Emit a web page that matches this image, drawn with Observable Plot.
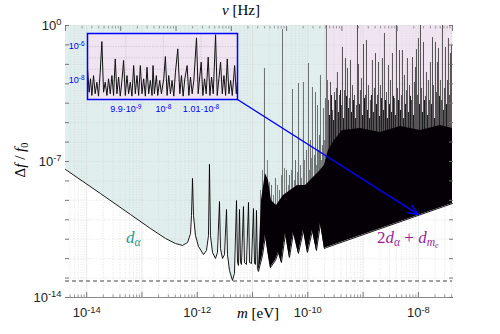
<!DOCTYPE html>
<html><head><meta charset="utf-8">
<script src="https://cdn.jsdelivr.net/npm/d3@7"></script>
<script src="https://cdn.jsdelivr.net/npm/@observablehq/plot@0.6"></script>
<style>
html,body{margin:0;padding:0;background:#fff;}
#wrap{position:relative;width:500px;height:334px;overflow:hidden;}
#wrap svg{display:block;}
.tex{position:absolute;font-family:"Liberation Serif","DejaVu Serif",serif;white-space:nowrap;line-height:1;}
.tex sub{font-size:68%;vertical-align:-0.3em;line-height:0;}
#inset{position:absolute;left:57px;top:31px;}
</style></head><body>
<div id="wrap">
  <div id="chart"></div>
  <div id="inset"></div>
  <div class="tex" style="left:222px;top:3px;font-size:15px;"><i>ν</i> [Hz]</div>
  <div class="tex" style="left:237px;top:306px;font-size:15px;"><i>m</i> [eV]</div>
  <div class="tex" style="left:20px;top:160px;font-size:15px;transform:translate(-50%,-50%) rotate(-90deg);">Δ<i>f</i> / <i>f</i><sub>0</sub></div>
  <div class="tex" style="left:126px;top:229px;font-size:17px;color:#2a9a8e;"><i>d</i><sub><i>α</i></sub></div>
  <div class="tex" style="left:377px;top:229px;font-size:17px;color:#9a1f9a;">2<i>d</i><sub><i>α</i></sub> + <i>d</i><sub><i>m<sub>e</sub></i></sub></div>
</div>
<script>
// ---------- data (exponents of 10) ----------
const xDomainExp = [-14.383, -7.383];     // m [eV]
const yDomainExp = [-14, 0];              // Δf/f0
const hEV = 4.135667e-15;                 // eV per Hz (ν = m / h)
const xLabelExp = [-14, -12, -10, -8];
const yLabelExp = [0, -7, -14];
const nuLabelExp = [0, 2, 4, 6];
const floorExp = -13.15;
const regionSplitExp = -9.663;

// lower curve [log10 m, log10 Δf/f0]
const curveLow = [
 [-14.383,-7.41],[-13.750,-8.65],[-13.207,-9.73],[-12.846,-10.45],[-12.574,-10.96],[-12.394,-11.22],[-12.267,-11.32],[-12.176,-11.17],[-12.122,-10.71],[-12.104,-9.78],[-12.086,-7.87],[-12.068,-9.78],[-12.032,-10.81],[-11.978,-11.37],[-11.887,-11.79],[-11.833,-11.58],[-11.797,-10.81],[-11.779,-7.15],[-11.761,-10.81],[-11.724,-11.68],[-11.670,-11.99],[-11.634,-11.68],[-11.598,-9.06],[-11.580,-11.48],[-11.543,-11.99],[-11.507,-11.79],[-11.471,-9.47],[-11.453,-11.79],[-11.417,-12.61],[-11.363,-13.12],[-11.327,-12.76],[-11.290,-9.01],[-11.272,-12.20],[-11.254,-12.35],[-11.236,-9.47],[-11.218,-12.20],[-11.200,-12.30],[-11.164,-9.32],[-11.146,-12.20],[-11.110,-12.30],[-11.073,-9.11],[-11.055,-12.20],[-11.019,-12.25],[-10.983,-9.42],[-10.965,-12.25],[-10.947,-12.30],[-10.929,-9.52],[-10.911,-12.51],[-10.893,-12.66],
 [-10.820,-11.84],[-10.766,-10.81],[-10.712,-11.84],[-10.676,-12.46],[-10.585,-12.09],[-10.531,-11.68],[-10.477,-12.20],[-10.404,-10.71],[-10.332,-11.94],[-10.259,-10.65],[-10.169,-11.73],[-10.078,-10.55],[-10.006,-11.68],[-9.916,-10.55],[-9.843,-11.58],[-9.771,-10.19],[-9.699,-11.48],[-9.663,-11.43],[-7.383,-9.16]
];
// top of the densely oscillating (solid black) band
const denseTop = [
 [-10.893,-12.66],[-10.838,-9.01],[-10.766,-7.62],[-10.712,-7.98],[-10.658,-9.01],[-10.567,-9.26],[-10.441,-8.75],[-10.314,-8.49],[-10.187,-8.23],[-10.042,-8.23],[-9.916,-7.87],[-9.807,-7.57],[-9.699,-7.21],[-9.627,-6.43],[-9.518,-5.92],[-9.373,-5.40],[-9.048,-5.30],[-8.686,-5.51],[-8.324,-5.20],[-7.963,-5.40],[-7.601,-5.15],[-7.383,-5.30]
];
// resonance spikes [log10 m, log10 peak]: tall ones left of the split
const spikesA = [
 [-10.784,-2.21],[-10.657,-8.23],[-10.585,-7.87],[-10.513,-8.49],[-10.458,-0.21],[-10.386,-7.46],[-10.332,-7.72],[-10.277,-3.29],[-10.223,-6.95],[-10.169,-2.99],[-10.133,-7.21],[-10.079,-2.93],[-10.024,-6.43],[-9.988,-1.96],[-9.952,-5.92],[-9.916,-3.19],[-9.880,-6.69],[-9.861,-3.45],[-9.825,-4.12],[-9.789,-5.66],[-9.771,-2.57],[-9.735,-6.18],[-9.717,-4.27],[-9.681,-3.76],[-9.663,0],[-9.644,-2.83]
];
// shorter spikes rising out of the dark band left of the split
const spikesD = [
 [-10.856,-8.49],[-10.820,-7.46],[-10.730,-6.95],[-10.693,-8.08],[-10.621,-8.75],[-10.549,-8.23],[-10.476,-7.72],[-10.422,-7.36],[-10.350,-8.23],[-10.296,-7.46],[-10.241,-7.98],[-10.187,-7.57],[-10.115,-7.87],[-10.060,-6.95],[-9.970,-7.46],[-9.934,-6.85],[-9.843,-7.21],[-9.807,-6.43],[-9.753,-6.95],[-9.699,-5.92]
];
// spikes right of the split
const spikesB = [
 [-9.626,-3.86],[-9.590,-2.93],[-9.554,-4.37],[-9.518,-3.45],[-9.482,-3.24],[-9.464,-2.42],[-9.427,-3.60],[-9.391,-4.12],[-9.373,-1.13],[-9.337,-3.35],[-9.319,-1.70],[-9.283,-2.21],[-9.247,-3.76],[-9.228,-1.80],[-9.192,-3.09],[-9.156,-3.60],[-9.120,-4.12],[-9.102,0],[-9.084,-2.01],[-9.048,-3.35],[-9.030,-2.73],[-8.993,-0.98],[-8.957,-3.60],[-8.939,-0.77],[-8.903,-3.09],[-8.867,-3.86],[-8.831,-1.80],[-8.794,-3.24],[-8.776,-1.44],[-8.740,-3.60],[-8.722,-1.90],[-8.686,-3.09],[-8.650,-1.70],[-8.614,-0.41],[-8.577,-3.45],[-8.541,-2.06],[-8.505,-2.83],[-8.469,-1.44],[-8.433,-3.76],[-8.397,0],[-8.378,-3.24],[-8.342,-1.29],[-8.306,-3.60],[-8.288,-1.29],[-8.252,-2.57],[-8.216,-3.35],[-8.198,-1.70],[-8.161,-3.09],[-8.125,-3.86],[-8.107,-1.65],[-8.071,-2.93],[-8.053,-2.16],[-8.035,-1.24],[-8.017,-3.60],[-7.999,-0.67],[-7.962,0],[-7.944,-3.24],[-7.908,-0.87],[-7.872,-3.65],[-7.854,-2.42],[-7.818,-2.83],[-7.800,-3.86],[-7.782,-1.90],[-7.745,-0.62],[-7.727,-3.09],[-7.691,-0.87],[-7.673,-3.45],[-7.655,-1.90],[-7.637,-1.18],[-7.601,-2.83],[-7.583,-3.86],[-7.565,0],[-7.528,-3.24],[-7.510,-1.13],[-7.474,-2.83],[-7.456,-0.67],[-7.438,-3.60],[-7.420,-1.44],[-7.402,-1.03]
];
const spikesC = [
 [-9.608,-4.63],[-9.572,-3.60],[-9.536,-4.89],[-9.500,-3.86],[-9.446,-4.48],[-9.409,-3.35],[-9.355,-4.79],[-9.301,-3.65],[-9.265,-4.27],[-9.210,-4.48],[-9.174,-3.86],[-9.138,-4.79],[-9.066,-4.07],[-9.011,-4.63],[-8.975,-3.76],[-8.921,-4.37],[-8.885,-4.79],[-8.849,-3.60],[-8.813,-4.48],[-8.758,-4.07],[-8.704,-4.68],[-8.668,-3.76],[-8.632,-4.37],[-8.595,-3.86],[-8.559,-4.79],[-8.523,-4.07],[-8.487,-4.48],[-8.451,-3.65],[-8.415,-4.63],[-8.360,-3.86],[-8.324,-4.37],[-8.270,-4.79],[-8.234,-4.07],[-8.180,-4.48],[-8.143,-3.65],[-8.089,-4.63],[-7.981,-4.07],[-7.926,-4.48],[-7.890,-3.86],[-7.836,-4.63],[-7.764,-4.07],[-7.709,-4.79],[-7.619,-3.65],[-7.547,-4.37],[-7.492,-4.07]
];
// arrow from inset corner to m = 1e-8
const arrowFrom = [-11.272, -3.81];
const arrowTo = [-8.0, -9.73];

// inset: [m in units of 1e-8 eV, log10 Δf/f0]
const insetXDomain = [0.97982, 1.01970];
const insetYDomainExp = [-9.118, -5.235];
const insetXTicks = [0.99, 1.0, 1.01];
const insetXLabels = ["9.9·10⁻⁹", "10⁻⁸", "1.01·10⁻⁸"];
const insetYLabelExp = [-6, -8];
const insetYGridExp = [-6, -6.667, -7.333, -8];
const insetCurve = [
 [0.97982,-7.31],[0.98026,-8.69],[0.98062,-7.90],[0.98098,-8.88],[0.98142,-7.71],[0.98186,-8.78],[0.98231,-8.10],[0.98275,-8.92],[0.98320,-7.51],[0.98364,-5.71],[0.98409,-8.69],[0.98453,-8.10],[0.98498,-8.88],[0.98542,-7.90],[0.98587,-8.78],[0.98631,-7.71],[0.98675,-8.88],[0.98720,-6.73],[0.98764,-8.78],[0.98809,-7.80],[0.98853,-8.92],[0.98898,-8.00],[0.98942,-6.82],[0.98987,-8.88],[0.99031,-7.71],[0.99075,-8.78],[0.99120,-8.10],[0.99164,-8.92],[0.99209,-7.12],[0.99253,-8.78],[0.99298,-7.71],[0.99342,-8.88],[0.99387,-7.12],[0.99431,-8.78],[0.99475,-7.90],[0.99520,-8.92],[0.99564,-7.22],[0.99609,-8.78],[0.99653,-8.00],[0.99698,-8.88],[0.99724,-7.12],[0.99760,-8.78],[0.99813,-7.71],[0.99849,-8.88],[0.99902,-8.00],[0.99947,-8.78],[1.00009,-7.90],[1.00053,-6.59],[1.00098,-8.88],[1.00142,-7.71],[1.00187,-8.78],[1.00231,-8.00],[1.00276,-8.92],[1.00320,-7.51],[1.00382,-6.14],[1.00436,-8.78],[1.00480,-7.71],[1.00525,-8.92],[1.00569,-7.90],[1.00631,-7.12],[1.00676,-8.88],[1.00720,-7.80],[1.00765,-8.78],[1.00809,-8.00],[1.00880,-5.49],[1.00925,-8.78],[1.00969,-7.71],[1.01005,-6.92],[1.01049,-8.88],[1.01094,-7.90],[1.01138,-8.78],[1.01191,-6.63],[1.01236,-8.88],[1.01280,-7.80],[1.01325,-8.78],[1.01387,-5.31],[1.01431,-8.88],[1.01476,-7.90],[1.01520,-6.92],[1.01565,-8.78],[1.01609,-7.71],[1.01654,-8.88],[1.01698,-6.73],[1.01742,-8.78],[1.01787,-8.00],[1.01831,-8.88],[1.01894,-7.12],[1.01938,-8.78],[1.01965,-8.10]
];

// ---------- helpers ----------
const P = e => Math.pow(10, e);
const SUP = {"0":"⁰","1":"¹","2":"²","3":"³","4":"⁴","5":"⁵","6":"⁶","7":"⁷","8":"⁸","9":"⁹","-":"⁻"};
const UNSUP = Object.fromEntries(Object.entries(SUP).map(([k, v]) => [v, k]));
const pow10 = e => "10" + String(e).split("").map(c => SUP[c]).join("");
const decades = d3.range(Math.floor(xDomainExp[0]), Math.ceil(xDomainExp[1]) + 1);
const xMajor = decades.map(P).filter(v => v >= P(xDomainExp[0]) && v <= P(xDomainExp[1]));
const xMinor = decades.flatMap(k => d3.range(2, 10).map(j => j * P(k))).filter(v => v >= P(xDomainExp[0]) && v <= P(xDomainExp[1]));
const yDec = d3.range(yDomainExp[0], yDomainExp[1] + 1).map(P);
const nuDec = d3.range(0, 8);
const nuMajor = nuDec.map(k => P(k) * hEV).filter(v => v <= P(xDomainExp[1]) * 1.0001);
const nuMinor = nuDec.flatMap(k => d3.range(2, 10).map(j => j * P(k) * hEV)).filter(v => v <= P(xDomainExp[1]));

const teal = "#e0efee", pink = "#efe4f0";
const tealPts = curveLow.filter(d => d[0] <= regionSplitExp + 1e-9);
const pinkPts = curveLow.filter(d => d[0] >= regionSplitExp - 1e-9);
const yBottom = () => P(yDomainExp[0]), yTop = () => P(yDomainExp[1]);

// second copy uses slightly different stroke codes so it can be found and clipped
function gridMarks(c1, c2) {
  return [
    Plot.ruleX(xMinor, {stroke: c1, strokeWidth: 0.6, strokeDasharray: "1,1.6"}),
    Plot.ruleX(xMajor, {stroke: c2, strokeWidth: 0.6}),
    Plot.ruleY(yDec, {stroke: c1, strokeWidth: 0.6, strokeDasharray: "1,1.6"})
  ];
}
const spikeOpts = (stroke, w) => ({x: d => P(d[0]), y1: yBottom, y2: d => P(d[1]), stroke, strokeWidth: w});

const chart = Plot.plot({
  width: 500, height: 334,
  marginLeft: 65, marginRight: 48, marginTop: 25, marginBottom: 37,
  x: {type: "log", domain: xDomainExp.map(P)},
  y: {type: "log", domain: yDomainExp.map(P)},
  style: {fontFamily: "'Liberation Sans', Arial, sans-serif", fontSize: "13px", background: "transparent", color: "#222", overflow: "visible"},
  marks: [
    Plot.areaY(tealPts, {x: d => P(d[0]), y1: d => P(d[1]), y2: yTop, fill: teal}),
    Plot.areaY(pinkPts, {x: d => P(d[0]), y1: d => P(d[1]), y2: yTop, fill: pink}),
    ...gridMarks("#d0d0d0", "#d8d8d8"),
    Plot.ruleX(spikesA, spikeOpts("#2a2a2a", 0.65)),
    Plot.ruleX(spikesD, spikeOpts("#3a3a3a", 0.6)),
    Plot.ruleX(spikesC, spikeOpts("#000", 0.9)),
    Plot.ruleX(spikesB, spikeOpts("#111", 0.7)),
    Plot.areaY(denseTop, {x: d => P(d[0]), y1: yBottom, y2: d => P(d[1]), fill: "#050005"}),
    Plot.areaY(curveLow, {x: d => P(d[0]), y1: yBottom, y2: d => P(d[1]), fill: "white"}),
    ...gridMarks("#d0d0d1", "#d8d8d9"),
    Plot.line(curveLow, {x: d => P(d[0]), y: d => P(d[1]), stroke: "black", strokeWidth: 0.9}),
    Plot.ruleY([P(floorExp)], {stroke: "#444", strokeWidth: 1.2, strokeDasharray: "4,3"}),
    // axes
    Plot.ruleY([P(yDomainExp[0])], {stroke: "#8a8a8a", strokeWidth: 1}),
    Plot.axisX({anchor: "bottom", ticks: xMajor, tickSize: -5, fill: "none", stroke: "#777"}),
    Plot.axisX({anchor: "bottom", ticks: xMinor, tickSize: -2.5, fill: "none", stroke: "#999"}),
    Plot.axisX({anchor: "bottom", ticks: xLabelExp.map(P), tickSize: 0, tickPadding: 10, tickFormat: v => pow10(Math.round(Math.log10(v))), label: null}),
    Plot.axisX({anchor: "top", ticks: nuMajor, tickSize: -5, fill: "none", stroke: "#777"}),
    Plot.axisX({anchor: "top", ticks: nuMinor, tickSize: -2.5, fill: "none", stroke: "#999"}),
    Plot.axisX({anchor: "top", ticks: nuLabelExp.map(k => P(k) * hEV), tickSize: 0, tickPadding: 6, tickFormat: v => pow10(Math.round(Math.log10(v / hEV))), label: null}),
    Plot.axisY({anchor: "left", ticks: yDec, tickSize: -4, fill: "none", stroke: "#777"}),
    Plot.axisY({anchor: "right", ticks: yDec, tickSize: -4, fill: "none", stroke: "#777"}),
    Plot.axisY({anchor: "left", ticks: yLabelExp.map(P), tickSize: 0, tickPadding: 4, tickFormat: v => pow10(Math.round(Math.log10(v))), label: null}),
    Plot.arrow([[arrowFrom, arrowTo]], {x1: d => P(d[0][0]), y1: d => P(d[0][1]), x2: d => P(d[1][0]), y2: d => P(d[1][1]), stroke: "#0000ff", strokeWidth: 1.4, headLength: 12, headAngle: 45})
  ]
});
document.getElementById("chart").appendChild(chart);

const NS = "http://www.w3.org/2000/svg";
const svgOf = el => el.tagName.toLowerCase() === "svg" ? el : el.querySelector("svg");

// clip the second grid copy to the white region below the curve
(function () {
  const svg = svgOf(chart);
  const below = svg.querySelector('g[fill="white"] path');
  if (!below) return;
  const cp = document.createElementNS(NS, "clipPath");
  cp.setAttribute("id", "belowClip");
  const p = document.createElementNS(NS, "path");
  p.setAttribute("d", below.getAttribute("d"));
  cp.appendChild(p);
  svg.insertBefore(cp, svg.firstChild);
  svg.querySelectorAll('g[stroke="#d0d0d1"], g[stroke="#d8d8d9"]').forEach(g => g.setAttribute("clip-path", "url(#belowClip)"));
})();

// raise exponents as real superscripts
function superscripts(svg) {
  svg.querySelectorAll("text").forEach(t => {
    const m = t.textContent.match(/^(.*?)([⁰¹²³⁴⁵⁶⁷⁸⁹⁻]+)$/);
    if (!m) return;
    t.textContent = "";
    const a = document.createElementNS(NS, "tspan");
    a.textContent = m[1];
    const b = document.createElementNS(NS, "tspan");
    b.textContent = m[2].split("").map(c => UNSUP[c]).join("");
    b.setAttribute("dy", "-0.45em");
    b.setAttribute("font-size", "0.72em");
    t.append(a, b);
  });
}
superscripts(svgOf(chart));

const inset = Plot.plot({
  width: 182, height: 84,
  marginLeft: 30, marginRight: 2, marginTop: 2, marginBottom: 16,
  x: {domain: insetXDomain},
  y: {type: "log", domain: insetYDomainExp.map(P)},
  style: {fontFamily: "'Liberation Sans', Arial, sans-serif", fontSize: "9px", background: "transparent", color: "#0000ff", overflow: "visible"},
  marks: [
    Plot.frame({fill: pink, stroke: null}),
    Plot.ruleX(insetXTicks, {stroke: "#b0a8b8", strokeWidth: 0.6, strokeDasharray: "1,1.6"}),
    Plot.ruleY(insetYGridExp.map(P), {stroke: "#b0a8b8", strokeWidth: 0.6, strokeDasharray: "1,1.6"}),
    Plot.line(insetCurve, {x: d => d[0], y: d => P(d[1]), stroke: "#111", strokeWidth: 1}),
    Plot.frame({stroke: "#0000ff", strokeWidth: 1.5}),
    Plot.axisX({ticks: insetXTicks, tickSize: 0, tickPadding: 6, tickFormat: v => insetXLabels[insetXTicks.indexOf(v)], label: null}),
    Plot.axisY({ticks: insetYLabelExp.map(P), tickSize: 0, tickPadding: 3, tickFormat: v => pow10(Math.round(Math.log10(v))), label: null})
  ]
});
document.getElementById("inset").appendChild(inset);
superscripts(svgOf(inset));
</script>
</body></html>
